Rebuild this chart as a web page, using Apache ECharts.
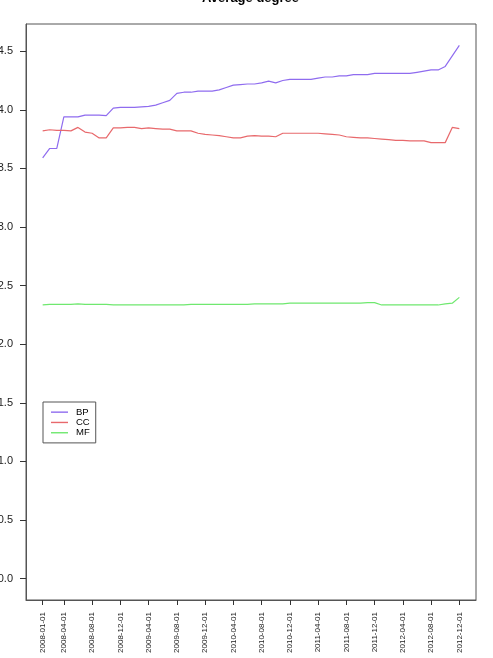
<!DOCTYPE html>
<html><head><meta charset="utf-8">
<script src="https://cdn.jsdelivr.net/npm/echarts@6/dist/echarts.min.js"></script>
<style>html,body{margin:0;padding:0;background:#fff}#c{width:493px;height:658px}</style>
</head><body><div id="c"></div>
<script>
// monthly observations, 2008-01-01 .. 2012-12-01
const months = [];
for (let y = 2008; y <= 2012; y++) for (let m = 1; m <= 12; m++) months.push(y + '-' + String(m).padStart(2, '0') + '-01');

const tickLabels = ["2008-01-01","2008-04-01","2008-08-01","2008-12-01","2009-04-01","2009-08-01","2009-12-01","2010-04-01","2010-08-01","2010-12-01","2011-04-01","2011-08-01","2011-12-01","2012-04-01","2012-08-01","2012-12-01"];

const bp = [3.59,3.67,3.67,3.94,3.94,3.94,3.955,3.955,3.955,3.95,
            4.015,4.02,4.02,4.02,4.025,4.03,4.04,4.06,4.08,4.14,
            4.15,4.15,4.16,4.16,4.16,4.17,4.19,4.21,4.215,4.22,
            4.22,4.23,4.245,4.23,4.25,4.26,4.26,4.26,4.26,4.27,
            4.28,4.28,4.29,4.29,4.30,4.30,4.30,4.31,4.31,4.31,
            4.31,4.31,4.31,4.32,4.33,4.34,4.34,4.37,4.46,4.55];
const cc = [3.82,3.83,3.825,3.825,3.82,3.85,3.81,3.80,3.76,3.76,
            3.845,3.845,3.85,3.85,3.84,3.845,3.84,3.835,3.835,3.82,
            3.82,3.82,3.80,3.79,3.785,3.78,3.77,3.76,3.76,3.775,
            3.78,3.775,3.775,3.77,3.80,3.80,3.80,3.80,3.80,3.80,
            3.795,3.79,3.785,3.77,3.765,3.76,3.76,3.755,3.75,3.745,
            3.74,3.74,3.735,3.735,3.735,3.72,3.72,3.72,3.85,3.84];
const mf = [2.335,2.34,2.34,2.34,2.34,2.345,2.34,2.34,2.34,2.34,
            2.335,2.335,2.335,2.335,2.335,2.335,2.335,2.335,2.335,2.335,
            2.335,2.34,2.34,2.34,2.34,2.34,2.34,2.34,2.34,2.34,
            2.345,2.345,2.345,2.345,2.345,2.35,2.35,2.35,2.35,2.35,
            2.35,2.35,2.35,2.35,2.35,2.35,2.355,2.355,2.335,2.335,
            2.335,2.335,2.335,2.335,2.335,2.335,2.335,2.345,2.35,2.40];
const yTicks = [0,0.5,1,1.5,2,2.5,3,3.5,4,4.5];
const seriesNames = ["BP","CC","MF"];
const seriesColors = ["#8f6cef","#e8696c","#6fe86f"];

const tickIdx = tickLabels.map(d => months.indexOf(d));
const pairs = arr => arr.map((v, i) => [i, v]);
const FONT = 'Liberation Sans, Arial, Helvetica, sans-serif';

const chart = echarts.init(document.getElementById('c'), null, {renderer: 'canvas'});
chart.setOption({
  animation: false,
  backgroundColor: '#fff',
  graphic: [{
    type: 'text', x: 250.5, y: -2,
    style: {text: 'Average degree', font: 'bold 13px ' + FONT, fill: '#000', align: 'center', verticalAlign: 'middle'}
  }],
  grid: {left: 26, right: 17, top: 24, bottom: 58, containLabel: false, outerBoundsMode: 'none',
         show: true, borderColor: '#555', borderWidth: 1},
  legend: {
    orient: 'vertical', left: 43, top: 402,
    data: seriesNames.map(n => ({name: n, icon: 'rect'})),
    itemWidth: 17, itemHeight: 1.4, itemGap: 0,
    padding: [5, 6, 5, 8],
    borderColor: '#555', borderWidth: 1,
    textStyle: {fontFamily: FONT, fontSize: 9.5, color: '#000', lineHeight: 10.3, padding: [0, 0, 0, 3]},
    selectedMode: false
  },
  xAxis: {
    type: 'value', min: -2.36, max: 61.36,
    splitLine: {show: false},
    axisLine: {show: true, onZero: false, lineStyle: {color: '#555'}},
    axisTick: {show: true, length: 5, customValues: tickIdx, lineStyle: {color: '#333'}},
    axisLabel: {
      customValues: tickIdx, rotate: 90, margin: 12,
      fontFamily: FONT, fontSize: 8, color: '#222',
      formatter: v => months[Math.round(v)]
    }
  },
  yAxis: {
    type: 'value', min: -0.182, max: 4.732,
    splitLine: {show: false},
    axisLine: {show: true, onZero: false, lineStyle: {color: '#555'}},
    axisTick: {show: true, length: 6, customValues: yTicks, lineStyle: {color: '#333'}},
    axisLabel: {
      customValues: yTicks, margin: 13,
      fontFamily: FONT, fontSize: 11, color: '#222',
      formatter: v => v.toFixed(1)
    }
  },
  series: [bp, cc, mf].map((arr, k) => ({
    name: seriesNames[k], type: 'line', data: pairs(arr),
    showSymbol: false, symbol: 'none',
    lineStyle: {width: 1.2, color: seriesColors[k]},
    itemStyle: {color: seriesColors[k]}
  }))
});
</script></body></html>
